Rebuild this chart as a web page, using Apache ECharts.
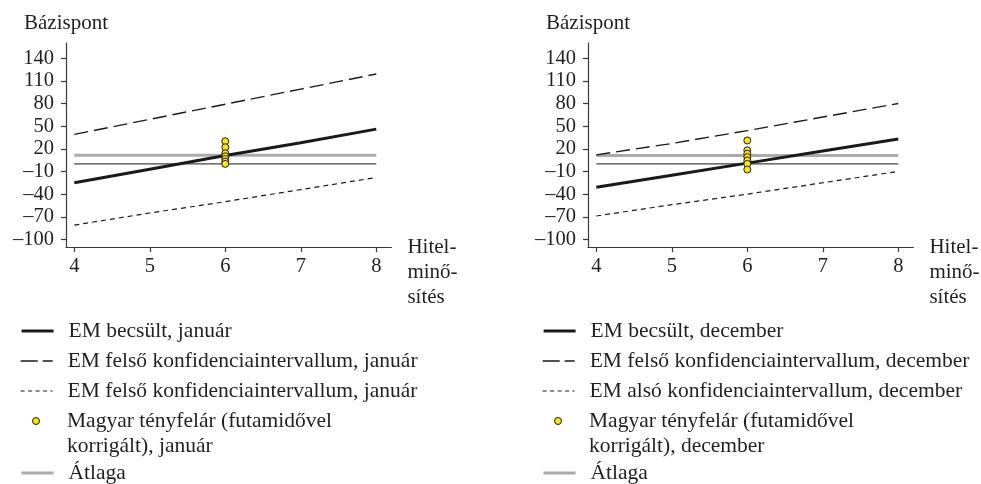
<!DOCTYPE html>
<html>
<head>
<meta charset="utf-8">
<script src="https://cdn.jsdelivr.net/npm/echarts@6/dist/echarts.min.js"></script>
<style>
html,body{margin:0;padding:0;background:#fff;}
#c{width:981px;height:484px;}
</style>
</head>
<body>
<div id="c"></div>
<script>
// ---- data ----
const xTicks = [4, 5, 6, 7, 8];
const yTicks = [-100, -70, -40, -10, 20, 50, 80, 110, 140];
const dotX = 6;

const janEst   = [-25, -7, 11, 28, 46];
const janUpper = [39, 59, 79, 99, 119];
const janLower = [-81, -65, -50, -34, -18];
const janAvg   = 11.5;
const janDots  = [30, 22, 14, 10, 6.5, 3, 0];

const decEst   = [-31, -15, 1, 17, 33];
const decUpper = [12, 27, 44, 62, 80];
const decLower = [-69, -54, -40, -25, -10];
const decAvg   = 11;
const decDots  = [31, 18, 13.5, 9, 4.5, 0, -7.5];

const zeroLevel = 0;

const janNames = ['EM becsült, január', 'EM felső konfidenciaintervallum, január',
  'EM felső konfidenciaintervallum, január ', 'Magyar tényfelár (futamidővel\nkorrigált), január', 'Átlaga'];
const decNames = ['EM becsült, december', 'EM felső konfidenciaintervallum, december',
  'EM alsó konfidenciaintervallum, december', 'Magyar tényfelár (futamidővel\nkorrigált), december', 'Átlaga'];

const yTitle = 'Bázispont';
const xTitle = 'Hitel-\nminő-\nsítés';

// ---- styles ----
const FONT = 'Liberation Serif';
const TXT = '#231f20';
const AX = '#3a3a3a';
const xMin = 3.89, xMax = 8.2, yMin = -110, yMax = 160;

function pairs(xs, ys) { return xs.map((x, i) => [x, ys[i]]); }
function flat(v) { return [[xTicks[0], v], [xTicks[xTicks.length - 1], v]]; }

function mkX(gi) {
  return {
    type: 'value', gridIndex: gi, min: xMin, max: xMax,
    name: '\n\n' + xTitle, nameLocation: 'end', nameGap: 16,
    nameTextStyle: { fontFamily: FONT, fontSize: 21, color: TXT, lineHeight: 25 },
    axisLine: { show: true, onZero: false, lineStyle: { color: AX, width: 1.2 } },
    axisTick: { show: true, customValues: xTicks, length: 5, lineStyle: { color: AX, width: 1.2 } },
    axisLabel: { customValues: xTicks, margin: 10, fontFamily: FONT, fontSize: 20.5, color: TXT, lineHeight: 20 },
    splitLine: { show: false }
  };
}
function mkY(gi) {
  return {
    type: 'value', gridIndex: gi, min: yMin, max: yMax,
    name: yTitle, nameLocation: 'end', nameGap: 10,
    nameTextStyle: { fontFamily: FONT, fontSize: 21, color: TXT, lineHeight: 20 },
    axisLine: { show: true, onZero: false, lineStyle: { color: AX, width: 1.2 } },
    axisTick: { show: true, customValues: yTicks, length: 5, lineStyle: { color: AX, width: 1.2 } },
    axisLabel: { customValues: yTicks, margin: 12, fontFamily: FONT, fontSize: 20.5, color: TXT, lineHeight: 20,
      formatter: v => (v < 0 ? '\u2013' + Math.abs(v) : String(v)) },
    splitLine: { show: false }
  };
}

function mkSeries(gi, names, est, upper, lower, avg, dots) {
  const base = { xAxisIndex: gi, yAxisIndex: gi, type: 'line', symbol: 'none', silent: true, animation: false };
  return [
    Object.assign({}, base, { name: 'zero' + gi, data: flat(zeroLevel), z: 2,
      lineStyle: { color: '#444444', width: 1.3 } }),
    Object.assign({}, base, { name: names[4], data: flat(avg), z: 3,
      lineStyle: { color: '#ababab', width: 3 } }),
    Object.assign({}, base, { name: names[1], data: pairs(xTicks, upper), z: 3,
      lineStyle: { color: '#1a1a1a', width: 1.4, type: [14, 6] } }),
    Object.assign({}, base, { name: names[2], data: pairs(xTicks, lower), z: 3,
      lineStyle: { color: '#1a1a1a', width: 1.2, type: [5, 4] } }),
    Object.assign({}, base, { name: names[0], data: pairs(xTicks, est), z: 4,
      lineStyle: { color: '#1a1a1a', width: 3 } }),
    { name: names[3], type: 'scatter', xAxisIndex: gi, yAxisIndex: gi, silent: true, animation: false, z: 6,
      symbol: 'circle', symbolSize: 7,
      itemStyle: { color: '#ffe600', borderColor: '#1a1a1a', borderWidth: 1, opacity: 1 },
      data: dots.map(v => [dotX, v]) }
  ];
}

const hideSym = { opacity: 0, color: 'rgba(0,0,0,0)', borderWidth: 0 };
function leg(item, left, centerY, multi) {
  const o = {
    data: [item], left: left + (multi ? 12 : 0), top: centerY - (multi ? 37.5 : 12.5),
    orient: 'vertical', itemWidth: 32, itemHeight: 7, padding: 0, selectedMode: false,
    textStyle: { fontFamily: FONT, fontSize: 21.5, color: TXT, lineHeight: 25, padding: [0, 0, 0, 10] }
  };
  if (multi) o.formatter = n => '\n' + n;
  return o;
}
function legends(names, left) {
  return [
    leg({ name: names[0], lineStyle: { width: 3.2, color: '#1a1a1a' }, itemStyle: hideSym }, left, 331),
    leg({ name: names[1], lineStyle: { width: 1.4, type: [17, 5] }, itemStyle: hideSym }, left, 361),
    leg({ name: names[2], lineStyle: { width: 1.2, type: [4, 3.5] }, itemStyle: hideSym }, left, 391),
    leg({ name: names[3], icon: 'circle', itemStyle: { borderWidth: 1, borderColor: '#1a1a1a', color: '#ffe600' } }, left, 421, true),
    leg({ name: names[4], lineStyle: { width: 3, color: '#ababab' }, itemStyle: hideSym }, left, 473)
  ];
}

const chart = echarts.init(document.getElementById('c'), null, { renderer: 'canvas' });
chart.setOption({
  animation: false,
  backgroundColor: '#ffffff',
  grid: [
    { left: 66, top: 43, width: 325.4, height: 204 },
    { left: 588, top: 43, width: 325.4, height: 204 }
  ],
  xAxis: [mkX(0), mkX(1)],
  yAxis: [mkY(0), mkY(1)],
  legend: legends(janNames, 20).concat(legends(decNames, 542)),
  series: mkSeries(0, janNames, janEst, janUpper, janLower, janAvg, janDots)
    .concat(mkSeries(1, decNames, decEst, decUpper, decLower, decAvg, decDots))
});
</script>
</body>
</html>
